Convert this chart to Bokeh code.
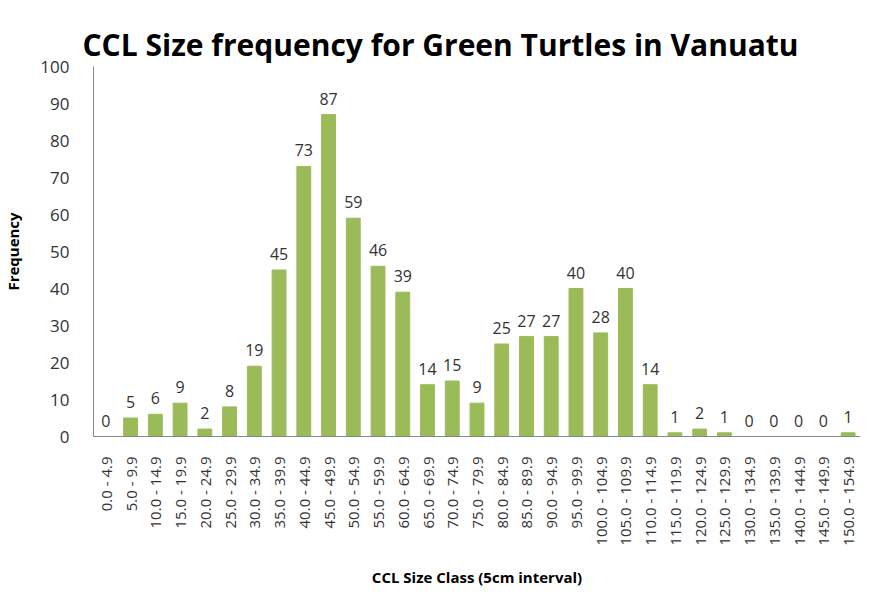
from bokeh.plotting import figure
from bokeh.models import ColumnDataSource, Range1d, LabelSet, Title, FixedTicker
from bokeh.core.properties import value
from bokeh.embed import file_html
from bokeh.resources import INLINE
from math import pi

title_text = "CCL Size frequency for Green Turtles in Vanuatu"
size_classes = ["0.0 - 4.9", "5.0 - 9.9", "10.0 - 14.9", "15.0 - 19.9", "20.0 - 24.9",
                "25.0 - 29.9", "30.0 - 34.9", "35.0 - 39.9", "40.0 - 44.9", "45.0 - 49.9",
                "50.0 - 54.9", "55.0 - 59.9", "60.0 - 64.9", "65.0 - 69.9", "70.0 - 74.9",
                "75.0 - 79.9", "80.0 - 84.9", "85.0 - 89.9", "90.0 - 94.9", "95.0 - 99.9",
                "100.0 - 104.9", "105.0 - 109.9", "110.0 - 114.9", "115.0 - 119.9",
                "120.0 - 124.9", "125.0 - 129.9", "130.0 - 134.9", "135.0 - 139.9",
                "140.0 - 144.9", "145.0 - 149.9", "150.0 - 154.9"]
frequency = [0, 5, 6, 9, 2, 8, 19, 45, 73, 87, 59, 46, 39, 14, 15, 9, 25, 27, 27, 40,
             28, 40, 14, 1, 2, 1, 0, 0, 0, 0, 1]
y_ticks = [0, 10, 20, 30, 40, 50, 60, 70, 80, 90, 100]

src = ColumnDataSource(dict(x=size_classes, y=frequency, lbl=[str(v) for v in frequency]))

FONT = "Open Sans"
p = figure(x_range=size_classes, y_range=Range1d(0, 100), width=860, height=589,
           output_backend="svg", toolbar_location=None, title=None,
           min_border_left=92, min_border_right=0, min_border_top=66, min_border_bottom=0)

# blank spacer next to the plot frame (added first, so it sits closest to the frame)
p.add_layout(Title(text=" ", text_font_size="1px", text_alpha=0, standoff=21), "above")

# main title (added later, so it sits above the spacer)
p.add_layout(Title(text=title_text, text_font=FONT, text_font_size="30px",
                   text_font_style="bold", text_color="black", align="left",
                   vertical_align="top", offset=-11, standoff=0), "above")

p.vbar(x="x", top="y", width=0.56, source=src, color="#9BBB59")

labels = LabelSet(x="x", y="y", text="lbl", source=src, y_offset=10,
                  text_align="center", text_baseline="bottom",
                  text_font=value(FONT), text_font_size="16px", text_color="#333333")
p.add_layout(labels)

p.xgrid.visible = False
p.ygrid.visible = False
p.outline_line_color = None

p.yaxis.ticker = FixedTicker(ticks=y_ticks)
for ax in (p.xaxis, p.yaxis):
    ax.axis_line_color = "#888888"
    ax.major_tick_line_color = None
    ax.minor_tick_line_color = None
    ax.major_label_text_font = FONT
    ax.major_label_text_color = "#333333"
    ax.axis_label_text_font = FONT
    ax.axis_label_text_font_size = "15px"
    ax.axis_label_text_font_style = "bold"
    ax.axis_label_text_color = "black"

p.yaxis.major_label_text_font_size = "17px"
p.xaxis.major_label_text_font_size = "15px"
p.yaxis.axis_label = "Frequency"
p.yaxis.major_label_standoff = 18
p.yaxis.axis_label_standoff = 14
p.xaxis.axis_label = "CCL Size Class (5cm interval)"
p.xaxis.major_label_orientation = pi / 2
p.xaxis.major_label_standoff = 14
p.xaxis.axis_label_standoff = 18

open("out.html", "w").write(file_html(p, INLINE))
